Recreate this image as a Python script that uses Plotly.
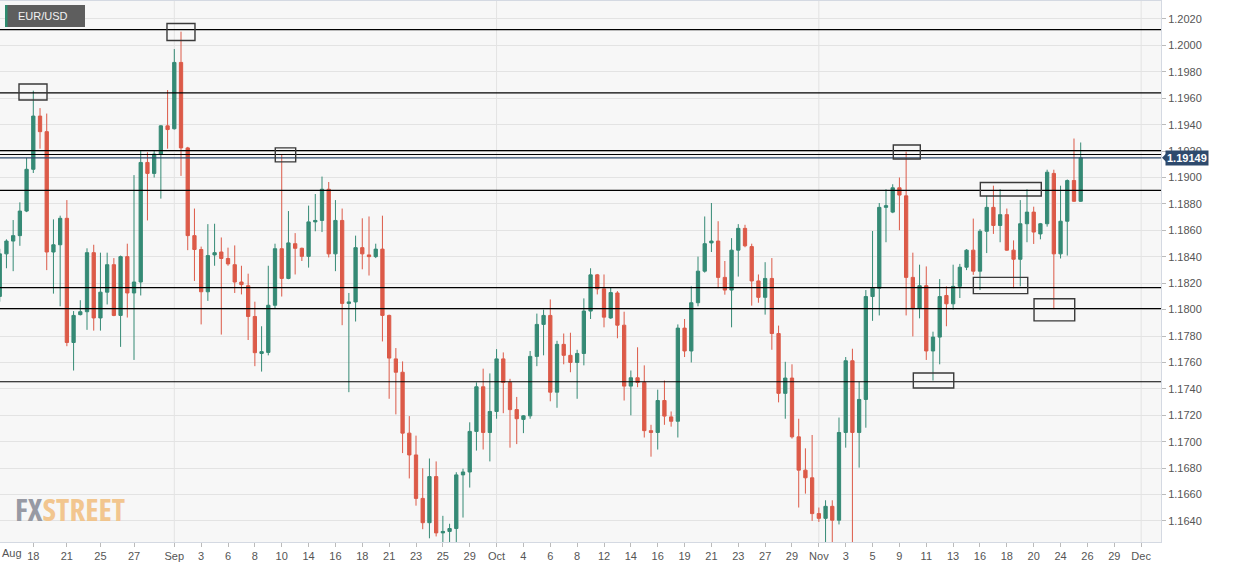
import plotly.graph_objects as go

# ---------------- data (12h candles, index along the x axis) ----------------
candle_index = list(range(162))
opens = [1.18100, 1.18422, 1.18519, 1.18560, 1.18746, 1.19062, 1.19465, 1.19347, 1.18436, 1.18491,
         1.18691, 1.17751, 1.17962, 1.17984, 1.18431, 1.17937, 1.18132, 1.18340, 1.17956, 1.18401,
         1.18126, 1.18209, 1.19114, 1.19031, 1.19177, 1.19391, 1.19369, 1.19871, 1.19224, 1.18560,
         1.18455, 1.18135, 1.18414, 1.18436, 1.18387, 1.18340, 1.18209, 1.18181, 1.17948, 1.17668,
         1.17676, 1.18033, 1.18461, 1.18236, 1.18499, 1.18464, 1.18403, 1.18664, 1.18675, 1.18911,
         1.18422, 1.18675, 1.18047, 1.18058, 1.18469, 1.18414, 1.18401, 1.18458, 1.17956, 1.17627,
         1.17526, 1.17065, 1.16900, 1.16571, 1.16387, 1.16736, 1.16310, 1.16321, 1.16343, 1.16749,
         1.16771, 1.17078, 1.17416, 1.17070, 1.17229, 1.17627, 1.17449, 1.17243, 1.17169, 1.17196,
         1.17646, 1.17888, 1.17956, 1.17375, 1.17737, 1.17654, 1.17600, 1.17668, 1.17989, 1.18263,
         1.18157, 1.17937, 1.18126, 1.17882, 1.17421, 1.17484, 1.17449, 1.17084, 1.17070, 1.17312,
         1.17188, 1.17155, 1.17860, 1.17687, 1.18052, 1.18291, 1.18505, 1.18519, 1.18244, 1.18148,
         1.18450, 1.18615, 1.18477, 1.18217, 1.18093, 1.18236, 1.17819, 1.17366, 1.17482, 1.17037,
         1.16785, 1.16727, 1.16456, 1.16420, 1.16511, 1.16406, 1.17070, 1.17613, 1.17070, 1.17320,
         1.18099, 1.18162, 1.18774, 1.18738, 1.18922, 1.18861, 1.18244, 1.18011, 1.18181, 1.17687,
         1.17792, 1.18107, 1.18044, 1.18176, 1.18321, 1.18450, 1.18291, 1.18593, 1.18774, 1.18637,
         1.18719, 1.18450, 1.18381, 1.18650, 1.18738, 1.18573, 1.18650, 1.19031, 1.18422, 1.18669,
         1.18977, 1.18820]
highs = [1.18460, 1.18532, 1.18678, 1.18812, 1.19149, 1.19657, 1.19525, 1.19484, 1.18683, 1.18711,
         1.18829, 1.17989, 1.18071, 1.18464, 1.18491, 1.18431, 1.18431, 1.18390, 1.18409, 1.18499,
         1.19018, 1.19204, 1.19191, 1.19204, 1.19396, 1.19662, 1.19972, 1.20104, 1.19232, 1.18765,
         1.18477, 1.18647, 1.18650, 1.18546, 1.18469, 1.18486, 1.18332, 1.18272, 1.18060, 1.17874,
         1.18332, 1.18499, 1.19177, 1.18746, 1.18579, 1.18469, 1.18787, 1.18875, 1.19007, 1.18966,
         1.18829, 1.18765, 1.18126, 1.18560, 1.18691, 1.18705, 1.18499, 1.18711, 1.17962, 1.17709,
         1.17608, 1.17194, 1.17046, 1.16799, 1.16873, 1.16851, 1.16439, 1.16379, 1.16769, 1.16796,
         1.17147, 1.17449, 1.17553, 1.17517, 1.17701, 1.17676, 1.17476, 1.17339, 1.17202, 1.17687,
         1.17970, 1.18000, 1.18077, 1.17764, 1.17819, 1.17825, 1.17696, 1.18085, 1.18313, 1.18270,
         1.18266, 1.18167, 1.18140, 1.17984, 1.17539, 1.17715, 1.17578, 1.17128, 1.17394, 1.17463,
         1.17229, 1.17888, 1.17929, 1.18176, 1.18401, 1.18705, 1.18807, 1.18669, 1.18368, 1.18541,
         1.18647, 1.18642, 1.18499, 1.18266, 1.18359, 1.18390, 1.17879, 1.17605, 1.17586, 1.17174,
         1.16950, 1.17051, 1.16502, 1.16557, 1.16557, 1.17183, 1.17641, 1.17704, 1.17454, 1.18148,
         1.18595, 1.18807, 1.18911, 1.18949, 1.19000, 1.19196, 1.18431, 1.18340, 1.18327, 1.17833,
         1.18231, 1.18176, 1.18340, 1.18346, 1.18458, 1.18689, 1.18609, 1.18861, 1.18938, 1.18911,
         1.18765, 1.18524, 1.18829, 1.18911, 1.18779, 1.18656, 1.19059, 1.19059, 1.18938, 1.18985,
         1.19295, 1.19265]
lows = [1.18060, 1.18313, 1.18291, 1.18483, 1.18738, 1.19034, 1.19218, 1.18299, 1.18121, 1.18025,
        1.17723, 1.17539, 1.17956, 1.17847, 1.17841, 1.17841, 1.18039, 1.17950, 1.17718, 1.17940,
        1.17619, 1.18107, 1.18675, 1.19000, 1.18840, 1.19218, 1.19363, 1.19012, 1.18450, 1.18217,
        1.17888, 1.18066, 1.18332, 1.17811, 1.18332, 1.18126, 1.18115, 1.17770, 1.17572, 1.17531,
        1.17654, 1.18011, 1.18099, 1.18230, 1.18266, 1.18368, 1.18318, 1.18593, 1.18587, 1.18395,
        1.18291, 1.17882, 1.17375, 1.17910, 1.18305, 1.18258, 1.18390, 1.17759, 1.17325, 1.17207,
        1.16914, 1.16722, 1.16516, 1.16338, 1.16269, 1.16283, 1.16200, 1.16220, 1.16230, 1.16426,
        1.16653, 1.16933, 1.16941, 1.16851, 1.17174, 1.17216, 1.16955, 1.16982, 1.17065, 1.17174,
        1.17572, 1.17654, 1.17306, 1.17257, 1.17586, 1.17526, 1.17325, 1.17578, 1.17929, 1.18115,
        1.17866, 1.17930, 1.17783, 1.17312, 1.17200, 1.17413, 1.17032, 1.16887, 1.16941, 1.17128,
        1.17114, 1.17032, 1.17641, 1.17600, 1.18025, 1.18280, 1.18436, 1.18162, 1.18113, 1.17866,
        1.18250, 1.18472, 1.18030, 1.18052, 1.17962, 1.17696, 1.17298, 1.17174, 1.17024, 1.16502,
        1.16607, 1.16401, 1.16393, 1.16200, 1.16180, 1.16374, 1.16955, 1.16150, 1.16804, 1.17106,
        1.17915, 1.17956, 1.18510, 1.18730, 1.18601, 1.17956, 1.17797, 1.17934, 1.17619, 1.17463,
        1.17586, 1.17874, 1.18000, 1.18088, 1.18299, 1.18263, 1.18148, 1.18428, 1.18573, 1.18510,
        1.18445, 1.18162, 1.18176, 1.18510, 1.18497, 1.18532, 1.18628, 1.18003, 1.18387, 1.18409,
        1.18815, 1.18815]
closes = [1.18422, 1.18519, 1.18560, 1.18746, 1.19062, 1.19465, 1.19347, 1.18436, 1.18491, 1.18691,
          1.17751, 1.17956, 1.17984, 1.18431, 1.17937, 1.18132, 1.18340, 1.17956, 1.18401, 1.18126,
          1.18209, 1.19114, 1.19031, 1.19177, 1.19391, 1.19363, 1.19871, 1.19224, 1.18560, 1.18455,
          1.18135, 1.18409, 1.18431, 1.18387, 1.18346, 1.18209, 1.18189, 1.17948, 1.17674, 1.17682,
          1.18033, 1.18461, 1.18236, 1.18505, 1.18464, 1.18403, 1.18664, 1.18675, 1.18911, 1.18422,
          1.18675, 1.18047, 1.18058, 1.18469, 1.18422, 1.18401, 1.18458, 1.17956, 1.17633, 1.17526,
          1.17065, 1.16900, 1.16571, 1.16387, 1.16736, 1.16310, 1.16321, 1.16343, 1.16749, 1.16771,
          1.17078, 1.17416, 1.17070, 1.17229, 1.17627, 1.17449, 1.17243, 1.17174, 1.17196, 1.17646,
          1.17888, 1.17956, 1.17375, 1.17737, 1.17654, 1.17600, 1.17668, 1.17989, 1.18263, 1.18157,
          1.17943, 1.18129, 1.17882, 1.17421, 1.17484, 1.17449, 1.17084, 1.17070, 1.17312, 1.17194,
          1.17155, 1.17860, 1.17687, 1.18052, 1.18291, 1.18499, 1.18519, 1.18244, 1.18148, 1.18450,
          1.18615, 1.18483, 1.18217, 1.18093, 1.18236, 1.17819, 1.17366, 1.17482, 1.17037, 1.16785,
          1.16727, 1.16456, 1.16420, 1.16511, 1.16406, 1.17070, 1.17613, 1.17070, 1.17320, 1.18099,
          1.18162, 1.18774, 1.18787, 1.18922, 1.18867, 1.18244, 1.18011, 1.18181, 1.17687, 1.17792,
          1.18099, 1.18044, 1.18176, 1.18321, 1.18450, 1.18291, 1.18593, 1.18774, 1.18637, 1.18719,
          1.18450, 1.18381, 1.18650, 1.18738, 1.18587, 1.18650, 1.19040, 1.18422, 1.18669, 1.18977,
          1.18820, 1.19149]

tick_pos = [5, 10, 15, 20, 26, 30, 34, 38, 42, 46, 50, 54, 58, 62, 66, 70, 74, 78, 82, 86,
            90, 94, 98, 102, 106, 110, 114, 118, 122, 126, 130, 134, 138, 142, 146, 150, 154, 158,
            162, 166, 170]
tick_text = ["18", "21", "25", "27", "Sep", "3", "6", "8", "10", "14", "16", "18", "21", "23",
             "25", "29", "Oct", "4", "6", "8", "12", "14", "16", "19", "21", "23", "27", "29", "Nov",
             "3", "5", "9", "11", "13", "16", "18", "20", "24", "26", "29", "Dec"]
first_month = "Aug"
month_names = ["Sep", "Oct", "Nov", "Dec"]

level_lines = [1.20120, 1.19640, 1.19204, 1.19174, 1.18903, 1.18167, 1.18008, 1.17454]
last_price = 1.19149
symbol = "EUR/USD"
logo_parts = ["FX", "STREET"]

box_x0 = [2.87, 24.91, 41.04, 133.09, 136.07, 146.05, 145.01, 154.05]
box_x1 = [7.04, 29.08, 44.08, 137.11, 142.09, 155.13, 153.11, 160.11]
box_y0 = [1.19587, 1.20037, 1.19118, 1.19140, 1.17407, 1.18860, 1.18121, 1.17915]
box_y1 = [1.19708, 1.20166, 1.19224, 1.19246, 1.17520, 1.18962, 1.18244, 1.18082]

x_range = [0.04, 172.96]
y_range = [1.16241, 1.20336]

# ---------------- figure ----------------
GREEN = "#358a75"
RED = "#dc5a48"
FONT = "Liberation Sans, Arial, sans-serif"

fig = go.Figure()
fig.add_trace(go.Candlestick(
    x=candle_index, open=opens, high=highs, low=lows, close=closes,
    increasing=dict(line=dict(color=GREEN, width=1), fillcolor=GREEN),
    decreasing=dict(line=dict(color=RED, width=1), fillcolor=RED),
    whiskerwidth=0, showlegend=False, hoverinfo="skip",
))

shapes = []
for pos, txt in zip(tick_pos, tick_text):
    if txt in month_names:
        shapes.append(dict(type="line", xref="x", yref="paper", x0=pos, x1=pos, y0=0, y1=1,
                           line=dict(color="#e3e3e3", width=1), layer="below"))
for lv in level_lines:
    shapes.append(dict(type="line", xref="paper", yref="y", x0=0, x1=1, y0=lv, y1=lv,
                       line=dict(color="#000000", width=1.2)))
shapes.append(dict(type="line", xref="paper", yref="y", x0=0, x1=1, y0=last_price, y1=last_price,
                   line=dict(color="#2e4a6d", width=1.2)))
for a, b, c, d in zip(box_x0, box_x1, box_y0, box_y1):
    shapes.append(dict(type="rect", xref="x", yref="y", x0=a, x1=b, y0=c, y1=d,
                       line=dict(color="#3a3a3a", width=1.4), fillcolor="rgba(0,0,0,0)"))
shapes.append(dict(type="rect", xref="paper", yref="paper", xsizemode="pixel", ysizemode="pixel",
                   xanchor=0, yanchor=1, x0=5, x1=85, y0=-4, y1=-26,
                   fillcolor="#5e5e5e", line=dict(width=0)))
shapes.append(dict(type="rect", xref="paper", yref="paper", xsizemode="pixel", ysizemode="pixel",
                   xanchor=0, yanchor=1, x0=5, x1=7.5, y0=-4, y1=-26,
                   fillcolor="#2e8b6e", line=dict(width=0)))
shapes.append(dict(type="path", xref="paper", yref="y", xsizemode="pixel", ysizemode="pixel",
                   xanchor=1, yanchor=last_price, path="M 1,0 L 5,-4 L 5,4 Z",
                   fillcolor="#2e4a6d", line=dict(width=0)))

logo_text = ("<b><span style=\"font-family:'Open Sans';font-stretch:condensed;color:#8e919c\">%s</span>"
             "<span style=\"font-family:'Open Sans';font-stretch:condensed;color:#f2c184\">%s</span></b>"
             % (logo_parts[0], logo_parts[1]))

annotations = [
    dict(xref="paper", yref="paper", x=0, y=1, xanchor="left", yanchor="middle",
         xshift=16, yshift=-15, text=symbol, showarrow=False,
         font=dict(family=FONT, size=11, color="#f2f2f2")),
    dict(xref="paper", yref="y", x=1, y=last_price, xanchor="left", yanchor="middle",
         xshift=4, text="<b>%.5f</b>" % last_price, showarrow=False, bgcolor="#2e4a6d",
         borderpad=1, font=dict(family=FONT, size=11, color="#ffffff")),
    dict(xref="paper", yref="paper", x=0, y=0, xanchor="left", yanchor="middle",
         xshift=0, yshift=-11, text=first_month, showarrow=False,
         font=dict(family=FONT, size=11, color="#555555")),
    dict(xref="paper", yref="paper", x=0, y=0, xanchor="left", yanchor="middle",
         xshift=13, yshift=33, showarrow=False, opacity=0.9, text=logo_text,
         font=dict(family="Open Sans, sans-serif", size=31)),
]

fig.update_layout(
    width=1245, height=568,
    margin=dict(l=0, r=84, t=1, b=26),
    paper_bgcolor="#ffffff", plot_bgcolor="#f7f7f7",
    shapes=shapes, annotations=annotations,
    showlegend=False,
    xaxis=dict(type="linear", range=x_range, tickmode="array", tickvals=tick_pos, ticktext=tick_text,
               showgrid=False, zeroline=False, showline=True, linecolor="#d4d9e2", mirror=True,
               ticks="outside", ticklen=4, tickcolor="#bbbbbb",
               tickfont=dict(family=FONT, size=11, color="#555555"),
               rangeslider=dict(visible=False), fixedrange=True),
    yaxis=dict(range=y_range, side="right", tick0=1.2, dtick=0.002, tickformat=".4f",
               showgrid=True, gridcolor="#e3e3e3", gridwidth=1, zeroline=False,
               showline=True, linecolor="#d4d9e2", mirror=True,
               ticks="outside", ticklen=4, tickcolor="#bbbbbb",
               tickfont=dict(family=FONT, size=11, color="#555555"), fixedrange=True),
)

fig.write_html("out.html")
